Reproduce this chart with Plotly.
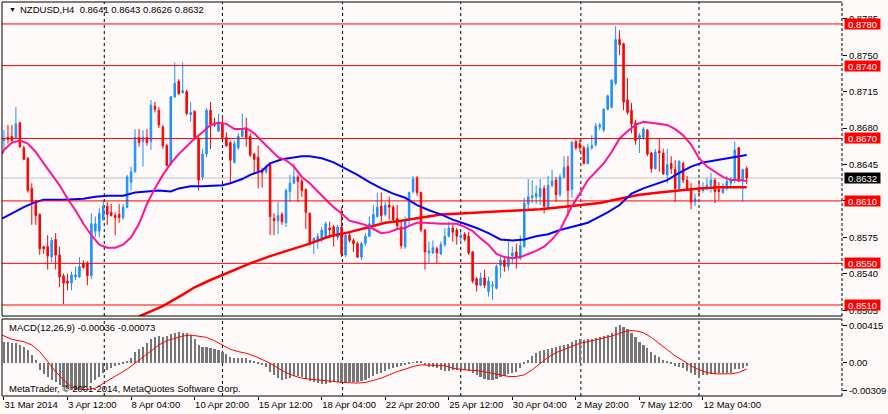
import plotly.graph_objects as go
from plotly.subplots import make_subplots

# NZDUSD H4 bars, bar index 0 = 31 Mar 2014
opens = [.8668, .8671, .8672, .8670, .8685, .8661, .8651, .8622, .8609, .8597,
         .8566, .8566, .8556, .8573, .8558, .8538, .8533, .8531, .8537, .8537,
         .8550, .8550, .8538, .8581, .8581, .8592, .8605, .8599, .8596, .8597,
         .8594, .8604, .8628, .8638, .8671, .8667, .8671, .8667, .8701, .8697,
         .8681, .8663, .8645, .8710, .8725, .8714, .8715, .8693, .8696, .8670,
         .8633, .8655, .8697, .8684, .8677, .8684, .8671, .8666, .8647, .8661,
         .8672, .8679, .8672, .8655, .8652, .8639, .8638, .8645, .8593, .8591,
         .8597, .8589, .8619, .8627, .8633, .8629, .8621, .8598, .8571, .8572,
         .8574, .8575, .8584, .8585, .8575, .8585, .8558, .8577, .8572, .8569,
         .8556, .8569, .8576, .8587, .8595, .8605, .8597, .8606, .8604, .8593,
         .8585, .8566, .8593, .8619, .8632, .8618, .8582, .8560, .8560, .8564,
         .8559, .8568, .8576, .8584, .8582, .8575, .8578, .8576, .8561, .8535,
         .8529, .8536, .8523, .8528, .8526, .8548, .8553, .8547, .8557, .8561,
         .8555, .8566, .8607, .8613, .8614, .8614, .8622, .8603, .8625, .8630,
         .8616, .8633, .8643, .8621, .8667, .8665, .8661, .8646, .8661, .8664,
         .8681, .8678, .8698, .8700, .8723, .8765, .8761, .8707, .8697, .8685,
         .8670, .8671, .8678, .8656, .8641, .8658, .8656, .8635, .8646, .8640,
         .8622, .8646, .8630, .8622, .8609, .8620, .8620, .8624, .8625, .8630,
         .8621, .8618, .8622, .8627, .8630, .8661, .8630, .8641]
highs = [.8678, .8683, .8683, .8700, .8686, .8663, .8652, .8627, .8611, .8598,
         .8567, .8577, .8575, .8579, .8566, .8540, .8540, .8542, .8547, .8556,
         .8553, .8552, .8598, .8595, .8603, .8611, .8609, .8607, .8599, .8607,
         .8607, .8635, .8643, .8679, .8679, .8678, .8679, .8707, .8705, .8700,
         .8683, .8665, .8711, .8743, .8727, .8743, .8717, .8705, .8697, .8672,
         .8660, .8699, .8705, .8690, .8694, .8692, .8676, .8668, .8668, .8675,
         .8694, .8690, .8675, .8656, .8663, .8642, .8645, .8647, .8598, .8609,
         .8599, .8622, .8635, .8646, .8635, .8631, .8622, .8599, .8575, .8579,
         .8585, .8590, .8590, .8587, .8587, .8604, .8580, .8579, .8574, .8571,
         .8571, .8579, .8595, .8606, .8618, .8618, .8609, .8614, .8606, .8606,
         .8591, .8595, .8619, .8634, .8634, .8619, .8583, .8571, .8572, .8566,
         .8571, .8584, .8590, .8587, .8584, .8580, .8580, .8580, .8562, .8537,
         .8541, .8544, .8537, .8533, .8549, .8557, .8557, .8571, .8566, .8569,
         .8577, .8613, .8631, .8630, .8625, .8631, .8625, .8634, .8640, .8633,
         .8636, .8653, .8653, .8668, .8669, .8669, .8663, .8665, .8673, .8685,
         .8685, .8699, .8712, .8727, .8778, .8774, .8762, .8728, .8704, .8688,
         .8675, .8681, .8679, .8657, .8660, .8670, .8660, .8660, .8653, .8649,
         .8649, .8648, .8634, .8627, .8617, .8630, .8628, .8632, .8637, .8632,
         .8628, .8627, .8634, .8633, .8667, .8662, .8641, .8643]
lows = [.8660, .8665, .8665, .8669, .8661, .8649, .8618, .8587, .8587, .8558,
        .8559, .8544, .8551, .8544, .8527, .8511, .8524, .8524, .8534, .8536,
        .8545, .8529, .8535, .8575, .8575, .8591, .8587, .8595, .8577, .8589,
        .8592, .8603, .8620, .8637, .8662, .8643, .8663, .8659, .8695, .8680,
        .8660, .8643, .8644, .8709, .8712, .8713, .8692, .8686, .8670, .8620,
        .8630, .8652, .8660, .8681, .8676, .8669, .8662, .8627, .8646, .8659,
        .8671, .8662, .8652, .8636, .8622, .8623, .8636, .8577, .8577, .8578,
        .8587, .8585, .8609, .8626, .8609, .8614, .8583, .8567, .8559, .8564,
        .8570, .8574, .8574, .8566, .8572, .8556, .8556, .8570, .8561, .8555,
        .8553, .8567, .8575, .8585, .8594, .8590, .8595, .8592, .8590, .8582,
        .8564, .8564, .8585, .8617, .8615, .8580, .8544, .8550, .8559, .8550,
        .8558, .8566, .8575, .8571, .8568, .8569, .8571, .8558, .8531, .8523,
        .8528, .8526, .8518, .8515, .8525, .8536, .8542, .8543, .8549, .8545,
        .8553, .8565, .8601, .8608, .8607, .8606, .8598, .8602, .8623, .8609,
        .8614, .8631, .8595, .8613, .8659, .8657, .8645, .8645, .8659, .8662,
        .8678, .8676, .8697, .8699, .8721, .8750, .8697, .8693, .8675, .8664,
        .8656, .8669, .8653, .8637, .8640, .8638, .8635, .8627, .8636, .8609,
        .8620, .8627, .8620, .8602, .8605, .8614, .8618, .8620, .8618, .8608,
        .8611, .8617, .8620, .8622, .8627, .8628, .8609, .8626]
closes = [.8670, .8669, .8668, .8684, .8662, .8650, .8620, .8609, .8596, .8564,
          .8564, .8557, .8572, .8558, .8537, .8531, .8531, .8539, .8539, .8547,
          .8546, .8538, .8588, .8588, .8598, .8605, .8597, .8596, .8594, .8594,
          .8604, .8633, .8638, .8671, .8666, .8671, .8666, .8702, .8698, .8683,
          .8663, .8644, .8710, .8723, .8713, .8716, .8694, .8695, .8671, .8630,
          .8655, .8697, .8684, .8683, .8686, .8671, .8663, .8649, .8665, .8672,
          .8678, .8671, .8654, .8650, .8639, .8637, .8643, .8595, .8591, .8596,
          .8590, .8620, .8627, .8633, .8629, .8620, .8599, .8569, .8574, .8576,
          .8582, .8588, .8582, .8576, .8585, .8559, .8577, .8572, .8569, .8556,
          .8569, .8576, .8588, .8597, .8604, .8596, .8606, .8604, .8592, .8586,
          .8567, .8592, .8618, .8631, .8618, .8582, .8561, .8562, .8565, .8560,
          .8568, .8576, .8584, .8580, .8576, .8577, .8573, .8560, .8533, .8529,
          .8536, .8529, .8533, .8529, .8547, .8553, .8547, .8556, .8560, .8555,
          .8567, .8608, .8614, .8615, .8617, .8622, .8605, .8625, .8629, .8616,
          .8633, .8642, .8620, .8666, .8661, .8661, .8646, .8661, .8663, .8682,
          .8683, .8698, .8711, .8726, .8765, .8760, .8705, .8695, .8684, .8668,
          .8673, .8679, .8655, .8641, .8657, .8656, .8636, .8645, .8641, .8622,
          .8648, .8630, .8622, .8609, .8612, .8619, .8622, .8625, .8630, .8619,
          .8619, .8622, .8629, .8630, .8659, .8629, .8640, .8632]
bars = list(range(len(closes)))

# moving averages at sample bars
pink_x = [-0.5, 0, 2, 4, 6, 8, 10, 12, 14, 16, 18, 20, 22, 24, 26, 28, 30, 32, 34, 36,
          38, 40, 42, 44, 46, 48, 50, 52, 54, 56, 58, 60, 61, 63, 65, 67, 69, 71, 73, 75,
          77, 79, 81, 83, 85, 87, 89, 91, 93, 95, 97, 99, 101, 102, 104, 106, 110, 114, 116, 118,
          120, 122, 124, 126, 128, 130, 132, 134, 136, 138, 140, 141, 143, 145, 147, 149, 151, 153, 155, 157,
          159, 161, 163, 165, 167, 169, 171, 173, 175, 177, 179, 181, 183, 185, 187]
pink_y = [.8655, .8659, .8666, .8668, .8665, .8657, .8646, .8635, .8625, .8612, .8601, .8588, .8577, .8568, .8565, .8565, .8568, .8575, .8588, .8607,
          .8622, .8635, .8646, .8655, .8663, .8670, .8676, .8683, .8685, .8684, .8679, .8679, .8680, .8675, .8667, .8659, .8652, .8649, .8643, .8633,
          .8627, .8619, .8611, .8604, .8598, .8591, .8589, .8587, .8583, .8579, .8580, .8583, .8584, .8586, .8589, .8589, .8588, .8588, .8585, .8581,
          .8574, .8568, .8559, .8556, .8555, .8556, .8559, .8562, .8566, .8573, .8582, .8590, .8605, .8617, .8630, .8638, .8646, .8657, .8670, .8677,
          .8683, .8686, .8685, .8684, .8683, .8679, .8673, .8664, .8651, .8643, .8638, .8633, .8630, .8630, .8629]
blue_x = [-0.5, 2, 5, 8, 10, 15, 20, 23, 26, 30, 33, 36, 39, 42, 44, 47, 50, 55, 57, 60,
          62, 65, 67, 70, 73, 75, 77, 80, 83, 86, 89, 92, 95, 98, 101, 104, 107, 110, 113, 116,
          119, 122, 125, 128, 131, 134, 137, 140, 142, 144, 147, 149, 152, 155, 158, 161, 164, 167, 170, 173,
          176, 179, 182, 185, 187]
blue_y = [.8593, .8598, .8604, .8609, .8611, .8611, .8612, .8614, .8615, .8615, .8618, .8619, .8620, .8619, .8622, .8624, .8624, .8625, .8627, .8631,
          .8635, .8639, .8646, .8650, .8652, .8653, .8653, .8651, .8647, .8641, .8635, .8628, .8622, .8617, .8613, .8606, .8601, .8597, .8592, .8588,
          .8584, .8579, .8573, .8572, .8573, .8576, .8578, .8582, .8584, .8586, .8589, .8593, .8599, .8606, .8617, .8622, .8626, .8630, .8637, .8643,
          .8647, .8649, .8651, .8653, .8654]
red_x = [34, 40, 45, 48, 52, 57, 62, 67, 72, 77, 82, 87, 92, 96, 100, 105, 110, 115, 120, 125,
         130, 135, 140, 145, 150, 155, 160, 165, 170, 175, 180, 187]
red_y = [.8499, .8509, .8520, .8527, .8534, .8542, .8550, .8557, .8563, .8569, .8576, .8580, .8585, .8589, .8591, .8594, .8597, .8598, .8599, .8600,
         .8601, .8602, .8604, .8606, .8608, .8612, .8616, .8618, .8620, .8622, .8623, .8623]

# MACD(12,26,9) main histogram, one value per bar
macd = [.00233, .00226, .00222, .00215, .00196, .00178, .00141, .00085, .00030, -.00081,
        -.00126, -.00163, -.00192, -.00222, -.00248, -.00274, -.00296, -.00303, -.00309, -.00296,
        -.00285, -.00274, -.00229, -.00192, -.00163, -.00118, -.00081, -.00056, -.00037, -.00026,
        -.00015, .00011, .00048, .00122, .00148, .00178, .00215, .00259, .00281, .00296,
        .00289, .00296, .00318, .00326, .00337, .00333, .00326, .00307, .00259, .00196,
        .00178, .00170, .00159, .00148, .00141, .00122, .00096, .00059, .00048, .00048,
        .00056, .00048, .00030, .00011, -.00007, -.00026, -.00044, -.00100, -.00137, -.00174,
        -.00200, -.00185, -.00167, -.00148, -.00148, -.00163, -.00185, -.00211, -.00222, -.00229,
        -.00237, -.00237, -.00229, -.00222, -.00222, -.00229, -.00229, -.00222, -.00222, -.00215,
        -.00207, -.00192, -.00174, -.00148, -.00126, -.00111, -.00089, -.00074, -.00059, -.00044,
        -.00037, -.00026, -.00015, -.00002, .00022, .00007, -.00026, -.00044, -.00044, -.00063,
        -.00081, -.00089, -.00089, -.00081, -.00081, -.00074, -.00081, -.00089, -.00118, -.00137,
        -.00163, -.00185, -.00192, -.00200, -.00185, -.00163, -.00148, -.00126, -.00111, -.00100,
        -.00063, -.00015, .00030, .00074, .00111, .00133, .00141, .00148, .00159, .00170,
        .00185, .00196, .00207, .00233, .00252, .00259, .00252, .00259, .00266, .00274,
        .00281, .00296, .00311, .00333, .00400, .00415, .00395, .00370, .00326, .00289,
        .00233, .00196, .00159, .00122, .00085, .00059, .00030, .00007, -.00015, -.00037,
        -.00044, -.00063, -.00089, -.00111, -.00137, -.00148, -.00141, -.00137, -.00126, -.00126,
        -.00118, -.00118, -.00118, -.00111, -.00074, -.00074, -.00063, -.00036]
signal_x = [-0.5, 2, 5, 7, 9, 11, 13, 15, 17, 19, 21, 23, 25, 27, 29, 31, 33, 35, 37, 39,
            41, 43, 45, 47, 49, 51, 53, 55, 57, 59, 61, 63, 65, 67, 69, 71, 73, 75, 77, 79,
            81, 83, 85, 87, 89, 91, 93, 95, 97, 99, 101, 103, 105, 107, 109, 111, 113, 116, 119, 122,
            125, 127, 129, 131, 133, 135, 137, 139, 141, 143, 145, 147, 149, 151, 153, 155, 157, 159, 161, 163,
            165, 167, 169, 171, 173, 175, 177, 179, 181, 183, 185, 187]
signal_y = [.00307, .00259, .00233, .00196, .00122, .00011, -.00100, -.00192, -.00274, -.00300,
            -.00300, -.00285, -.00229, -.00174, -.00126, -.00074, -.00007, .00059, .00122, .00196,
            .00244, .00270, .00296, .00307, .00296, .00281, .00244, .00196, .00148, .00122,
            .00104, .00074, .00037, -.00007, -.00063, -.00111, -.00148, -.00174, -.00185, -.00192,
            -.00200, -.00211, -.00222, -.00229, -.00229, -.00222, -.00200, -.00174, -.00137, -.00100,
            -.00074, -.00044, -.00026, -.00026, -.00030, -.00037, -.00063, -.00081, -.00089, -.00111,
            -.00137, -.00155, -.00155, -.00137, -.00081, -.00015, .00059, .00111, .00148, .00178,
            .00215, .00233, .00252, .00270, .00296, .00326, .00355, .00355, .00333, .00281,
            .00215, .00141, .00074, .00022, -.00037, -.00081, -.00111, -.00126, -.00126, -.00126,
            -.00111, -.00073]

time_ticks = [0, 16, 32, 48, 64, 80, 96, 112, 128, 144, 160, 176]
time_labels = ['31 Mar 2014', '3 Apr 12:00', '8 Apr 04:00', '10 Apr 20:00', '15 Apr 12:00',
               '18 Apr 04:00', '22 Apr 20:00', '25 Apr 12:00', '30 Apr 04:00', '2 May 20:00',
               '7 May 12:00', '12 May 04:00']
grid_bars = [25.25, 55, 85.25, 115, 145.25, 175]
price_ticks = [0.8785, 0.8750, 0.8715, 0.8680, 0.8645, 0.8610, 0.8575, 0.8540, 0.8505]
levels = [0.8780, 0.8740, 0.8670, 0.8610, 0.8550, 0.8510]
bid = 0.8632
macd_ticks = [0.00415, 0.0, -0.00309]
macd_labels = ['0.00415', '0.00', '-0.00309']

BG = '#FFFAFA'
FONT = 'Liberation Sans'
main_dom = [0.203, 1]
macd_dom = [0, 0.1954]

fig = make_subplots(rows=2, cols=1, shared_xaxes=True)

fig.add_trace(go.Candlestick(x=bars, open=opens, high=highs, low=lows, close=closes,
                             increasing=dict(line=dict(color='#1E90FF', width=1), fillcolor='#1E90FF'),
                             decreasing=dict(line=dict(color='#FF0000', width=1), fillcolor='#FF0000'),
                             whiskerwidth=0, showlegend=False), row=1, col=1)
fig.add_trace(go.Scatter(x=red_x, y=red_y, mode='lines', line=dict(color='#FF0000', width=2.5),
                         showlegend=False), row=1, col=1)
fig.add_trace(go.Scatter(x=blue_x, y=blue_y, mode='lines', line=dict(color='#0000FF', width=2),
                         showlegend=False), row=1, col=1)
fig.add_trace(go.Scatter(x=pink_x, y=pink_y, mode='lines', line=dict(color='#FF1493', width=2),
                         showlegend=False), row=1, col=1)

fig.add_trace(go.Bar(x=bars, y=macd, marker=dict(color='#767676', line=dict(width=0)),
                     width=0.55, showlegend=False), row=2, col=1)
fig.add_trace(go.Scatter(x=signal_x, y=signal_y, mode='lines', line=dict(color='#FF0000', width=1),
                         showlegend=False), row=2, col=1)

shapes = []
# grid
for g in grid_bars:
    for yr in ['y domain', 'y2 domain']:
        shapes.append(dict(type='line', xref='x', yref=yr, x0=g, x1=g, y0=0, y1=1, layer='below',
                           line=dict(color='black', width=1, dash='3px,3px')))
# bid line
shapes.append(dict(type='line', xref='x domain', yref='y', x0=0, x1=1, y0=bid, y1=bid, layer='below',
                   line=dict(color='#C0C0C0', width=1)))
# horizontal levels
for lv in levels:
    shapes.append(dict(type='line', xref='x domain', yref='y', x0=0, x1=1, y0=lv, y1=lv,
                       line=dict(color='#FF0000', width=1)))
# pane borders
for d in [main_dom, macd_dom]:
    shapes.append(dict(type='line', xref='paper', yref='paper', x0=0, x1=0, y0=d[0], y1=d[1], line=dict(color='black', width=1)))
    shapes.append(dict(type='line', xref='paper', yref='paper', x0=0, x1=1, y0=d[0], y1=d[0], line=dict(color='black', width=1)))
    shapes.append(dict(type='line', xref='paper', yref='paper', x0=0, x1=1, y0=d[1], y1=d[1], line=dict(color='black', width=1)))
    shapes.append(dict(type='line', xref='paper', yref='paper', x0=1, x1=1, y0=d[0], y1=d[1],
                       line=dict(color='black', width=1, dash='3px,2px')))

annotations = [
    dict(text='▼', xref='paper', yref='paper', x=0.006, y=0.98, xanchor='left', yanchor='middle',
         showarrow=False, font=dict(family=FONT, size=7, color='black')),
    dict(text='NZDUSD,H4  0.8641 0.8643 0.8626 0.8632', xref='paper', yref='paper', x=0.0189, y=0.98,
         xanchor='left', yanchor='middle', showarrow=False, font=dict(family=FONT, size=9.5, color='black')),
    dict(text='MACD(12,26,9) -0.00036 -0.00073', xref='paper', yref='paper', x=0.0059, y=0.175,
         xanchor='left', yanchor='middle', showarrow=False, font=dict(family=FONT, size=9.5, color='black')),
    dict(text='MetaTrader, © 2001-2014, MetaQuotes Software Corp.', xref='paper', yref='paper', x=0.0059,
         y=0.018, xanchor='left', yanchor='middle', showarrow=False, font=dict(family=FONT, size=9.5, color='black')),
]
for lv in levels:
    annotations.append(dict(text='%.4f' % lv, xref='paper', yref='y', x=1, y=lv, xanchor='left', yanchor='middle',
                            xshift=2, showarrow=False, bgcolor='#FF0000', width=35, height=10, borderpad=0,
                            font=dict(family=FONT, size=9.5, color='white')))
annotations.append(dict(text='%.4f' % bid, xref='paper', yref='y', x=1, y=bid, xanchor='left', yanchor='middle',
                        xshift=2, showarrow=False, bgcolor='black', width=35, height=10, borderpad=0,
                        font=dict(family=FONT, size=9.5, color='white')))

fig.update_layout(width=888, height=414, margin=dict(l=2, r=40, t=2, b=18),
                  paper_bgcolor=BG, plot_bgcolor=BG, boxgap=0.45, bargap=0,
                  font=dict(family=FONT, size=9.5, color='black'),
                  shapes=shapes, annotations=annotations, hovermode=False)

fig.update_xaxes(range=[-0.5, 211], showgrid=False, zeroline=False, rangeslider_visible=False)
fig.update_xaxes(showticklabels=False, ticks='', domain=[0, 1], row=1, col=1)
fig.update_xaxes(tickvals=time_ticks, ticktext=time_labels, ticks='outside', ticklen=3, tickcolor='black',
                 tickangle=0, ticklabelposition='outside right',
                 tickfont=dict(family=FONT, size=9.5, color='black'), row=2, col=1)
fig.update_yaxes(domain=main_dom, range=[0.84994, 0.88011], side='right', tickvals=price_ticks,
                 ticktext=['%.4f' % p for p in price_ticks], ticks='outside', ticklen=4, tickcolor='black',
                 showgrid=False, zeroline=False, row=1, col=1)
fig.update_yaxes(domain=macd_dom, range=[-0.00373, 0.00486], side='right', tickvals=macd_ticks,
                 ticktext=macd_labels, ticks='outside', ticklen=4, tickcolor='black',
                 showgrid=False, zeroline=False, row=2, col=1)

# page has no body margin so the chart sits at the window's corner
fig.write_html("out.html", config={'displayModeBar': False},
               post_script="document.body.style.margin='0px';")
